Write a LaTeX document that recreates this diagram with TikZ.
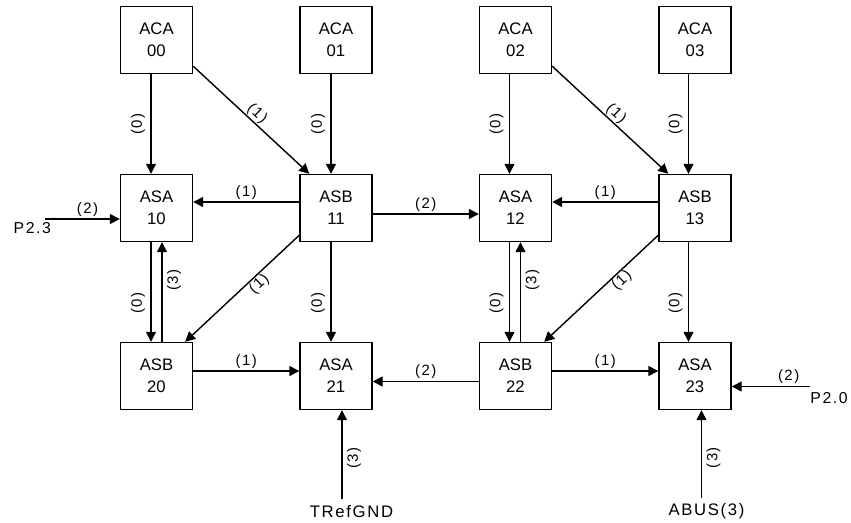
\documentclass[tikz,border=0pt]{standalone}
\usepackage{fontspec}
\setmainfont{Liberation Sans}
\newfontfamily\spaced[LetterSpace=10]{Liberation Sans}
\usetikzlibrary{positioning,arrows.meta}

\begin{document}
\begin{tikzpicture}[node distance=3.36cm and 3.59cm, on grid, thick,
        box/.style={draw, minimum width=1.44cm, minimum height=1.34cm, align=center,
            inner sep=0pt, font=\fontsize{9.5}{12.5}\selectfont},
        lbl/.style={font=\spaced\fontsize{8.5}{10}\selectfont, inner sep=1pt},
        lft/.style={lbl, rotate=90, anchor=south, inner sep=3pt},
        rgt/.style={lbl, rotate=90, anchor=north, inner sep=2.5pt},
        pin/.style={font=\spaced\fontsize{9}{11}\selectfont, inner sep=0pt},
        arr/.style={-{Triangle[length=0.2cm, width=0.2cm]}}]
        \useasboundingbox (0,0) rectangle (17.02,-10.44);

        % ACA cells
        \node (aca00) [box] at (3.13,-0.8) {ACA\\00};
        \node (aca01) [box, right=of aca00] {ACA\\01};
        \node (aca02) [box, right=of aca01] {ACA\\02};
        \node (aca03) [box, right=of aca02] {ACA\\03};

        % first row of switches
        \node (asa10) [box, below=of aca00] {ASA\\10};
        \node (asb11) [box, below=of aca01] {ASB\\11};
        \node (asa12) [box, below=of aca02] {ASA\\12};
        \node (asb13) [box, below=of aca03] {ASB\\13};

        % second row of switches
        \node (asb20) [box, below=of asa10] {ASB\\20};
        \node (asa21) [box, below=of asb11] {ASA\\21};
        \node (asb22) [box, below=of asa12] {ASB\\22};
        \node (asa23) [box, below=of asb13] {ASA\\23};

        % outside inputs
        \coordinate (p23) at ([xshift=-1.5cm, yshift=-0.22cm]asa10.west);
        \coordinate (p20) at ([xshift=1.56cm, yshift=-0.21cm]asa23.east);
        \coordinate (tref) at ([xshift=0.12cm, yshift=-1.78cm]asa21.south);
        \coordinate (abus) at ([xshift=0.13cm, yshift=-1.76cm]asa23.south);
        \node [pin, anchor=north] at ([xshift=-0.25cm, yshift=-0.06cm]p23) {P2.3};
        \node [pin, anchor=north west] at ([yshift=-0.1cm]p20) {P2.0};
        \node [pin, font=\spaced\fontsize{9.5}{11}\selectfont, anchor=north] at ([xshift=0.19cm, yshift=-0.12cm]tref) {TRefGND};
        \node [pin, font=\spaced\fontsize{9.5}{11}\selectfont, anchor=north] at ([xshift=0.1cm, yshift=-0.08cm]abus) {ABUS(3)};

        % left half
        \draw[arr] ([xshift=-0.11cm]aca00.south) -- node [lft] {(0)} ([xshift=-0.11cm]asa10.north);
        \draw[arr] ([xshift=-0.1cm]aca01.south) -- node [lft] {(0)} ([xshift=-0.1cm]asb11.north);
        \draw[arr] ([yshift=0.16cm]aca00.south east) -- node [lbl, sloped, above, inner sep=0.5pt] {(1)} ([xshift=0.2cm]asb11.north west);
        \draw[arr] ([yshift=0.12cm]asb11.west) -- node [lbl, above] {(1)} ([yshift=0.12cm]asa10.east);
        \draw[arr] (p23) -- node [lbl, above, pos=0.57] {(2)} ([yshift=-0.22cm]asa10.west);
        \draw[arr] ([yshift=-0.12cm]asb11.east) -- node [lbl, above] {(2)} ([yshift=-0.12cm]asa12.west);
        \draw[arr] ([xshift=-0.11cm]asa10.south) -- node [lft, pos=0.61] {(0)} ([xshift=-0.11cm]asb20.north);
        \draw[arr] ([xshift=0.11cm]asb20.north) -- node [rgt, pos=0.62] {(3)} ([xshift=0.11cm]asa10.south);
        \draw[arr] ([yshift=0.14cm]asb11.south west) -- node [lbl, sloped, below, pos=0.4, inner sep=0.5pt] {(1)} ([xshift=-0.16cm]asb20.north east);
        \draw[arr] ([xshift=-0.1cm]asb11.south) -- node [lft, pos=0.61] {(0)} ([xshift=-0.1cm]asa21.north);
        \draw[arr] ([yshift=0.1cm]asb20.east) -- node [lbl, above] {(1)} ([yshift=0.1cm]asa21.west);
        \draw[arr] (tref) -- node [rgt, pos=0.46] {(3)} ([xshift=0.12cm]asa21.south);

        % right half
        \draw[arr] ([xshift=-0.12cm]aca02.south) -- node [lft] {(0)} ([xshift=-0.12cm]asa12.north);
        \draw[arr] ([xshift=-0.13cm]aca03.south) -- node [lft] {(0)} ([xshift=-0.13cm]asb13.north);
        \draw[arr] ([yshift=0.16cm]aca02.south east) -- node [lbl, sloped, above, inner sep=0.5pt] {(1)} ([xshift=0.2cm]asb13.north west);
        \draw[arr] ([yshift=0.12cm]asb13.west) -- node [lbl, above] {(1)} ([yshift=0.12cm]asa12.east);
        \draw[arr] ([xshift=-0.12cm]asa12.south) -- node [lft, pos=0.61] {(0)} ([xshift=-0.12cm]asb22.north);
        \draw[arr] ([xshift=0.1cm]asb22.north) -- node [rgt, pos=0.62] {(3)} ([xshift=0.1cm]asa12.south);
        \draw[arr] ([yshift=0.14cm]asb13.south west) -- node [lbl, sloped, below, pos=0.37, inner sep=0.5pt] {(1)} ([xshift=-0.16cm]asb22.north east);
        \draw[arr] ([xshift=-0.13cm]asb13.south) -- node [lft, pos=0.61] {(0)} ([xshift=-0.13cm]asa23.north);
        \draw[arr] ([yshift=-0.11cm]asb22.west) -- node [lbl, above] {(2)} ([yshift=-0.11cm]asa21.east);
        \draw[arr] ([yshift=0.1cm]asb22.east) -- node [lbl, above] {(1)} ([yshift=0.1cm]asa23.west);
        \draw[arr] (p20) -- node [lbl, above, pos=0.27] {(2)} ([yshift=-0.21cm]asa23.east);
        \draw[arr] (abus) -- node [rgt, pos=0.46] {(3)} ([xshift=0.13cm]asa23.south);
    \end{tikzpicture}
\end{document}
